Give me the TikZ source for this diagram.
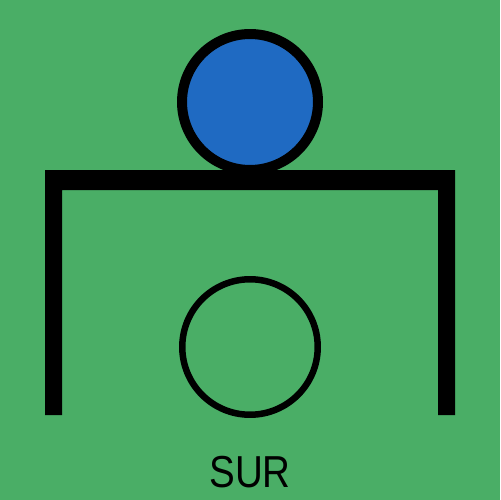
\documentclass[tikz,border=0pt]{standalone}
\usepackage{fontspec}
\setmainfont{Liberation Sans}
\usepackage{xcolor}
\usetikzlibrary{positioning}
\definecolor{fieldgreen}{RGB}{74,174,102}
\definecolor{ballblue}{RGB}{31,106,194}

\begin{document}
\begin{tikzpicture}[
  x=0.02cm, y=-0.02cm,
  ball/.style={circle, draw, line width=5.7pt, fill=ballblue, minimum size=2.72cm, inner sep=0pt},
  ring/.style={circle, draw, line width=3.7pt, minimum size=2.71cm, inner sep=0pt},
  label/.style={font=\fontsize{25.5}{30}\selectfont}
]
\fill[fieldgreen] (0,0) rectangle (500,500);
\useasboundingbox (0,0) rectangle (500,500);
% the table
\fill[black] (45,415) -- (45,170) -- (455,170) -- (455,415) -- (438,415)
  -- (438,190) -- (62,190) -- (62,415) -- cycle;
\node[ball] (top) at (250,102) {};
\node[ring] (under) at (250,347) {};
\node[label] (word) at (250,472) {\scalebox{0.86}[1]{SUR}};
\end{tikzpicture}
\end{document}
